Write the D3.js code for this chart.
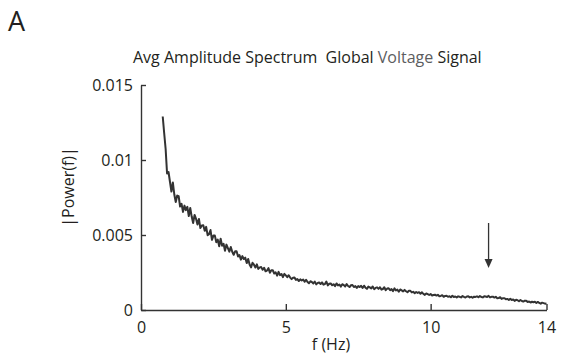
<!DOCTYPE html>
<html><head><meta charset="utf-8">
<script src="https://cdn.jsdelivr.net/npm/d3@7"></script>
<style>
body{margin:0;background:#fff}
svg{display:block}
text{font-family:"Open Sans",sans-serif;fill:#231f20}
</style>
</head><body>
<svg id="c" width="563" height="362"></svg>
<script>
// ---- data ----
const freqStart = 0.75;      // Hz, first bin
const freqStep = 0.05;       // Hz between bins
const power = [
0.0129,0.0118,0.01075,0.0091,0.0092,0.00855,0.0079,0.0085,0.0077,0.0072,
0.00763,0.00759,0.0069,0.00708,0.00654,0.00696,0.00666,0.00688,0.00626,0.0068,
0.00623,0.0058,0.00634,0.00608,0.0057,0.00607,0.00546,0.00563,0.00565,0.00528,
0.00554,0.00499,0.00506,0.00533,0.00468,0.00496,0.00496,0.00452,0.00469,0.00425,
0.00475,0.00428,0.00442,0.00395,0.00436,0.00412,0.00389,0.0042,0.00388,0.00368,
0.00391,0.00392,0.00357,0.00366,0.00336,0.00359,0.0034,0.00349,0.00313,0.0034,
0.00303,0.00284,0.00315,0.00302,0.00283,0.00304,0.00274,0.00284,0.00286,0.00268,
0.00282,0.00258,0.00263,0.00279,0.00248,0.00265,0.00265,0.00243,0.00251,0.00229,
0.00254,0.00232,0.0024,0.00219,0.00241,0.00231,0.00219,0.00232,0.00216,0.00206,
0.00215,0.00216,0.00201,0.00206,0.00193,0.00204,0.00197,0.00203,0.00188,0.00202,
0.00187,0.00178,0.00192,0.00186,0.00177,0.00189,0.00171,0.0018,0.00183,0.00173,
0.00184,0.00169,0.00173,0.0019,0.00164,0.00175,0.00177,0.00165,0.00172,0.00159,
0.00177,0.00164,0.0017,0.00156,0.00172,0.00166,0.00157,0.00173,0.0016,0.00153,
0.00165,0.00167,0.00153,0.00159,0.00147,0.00159,0.00153,0.00161,0.00147,0.00162,
0.00149,0.00141,0.00156,0.00151,0.00144,0.00157,0.00139,0.00147,0.00151,0.00141,
0.00152,0.00136,0.0014,0.00152,0.00132,0.00143,0.00145,0.00132,0.00139,0.00126,
0.00144,0.0013,0.00136,0.00122,0.00137,0.00131,0.00124,0.00134,0.00125,0.00119,
0.00128,0.00128,0.00117,0.00121,0.00112,0.0012,0.00114,0.00119,0.00108,0.00118,
0.00107,0.00101,0.0011,0.00106,0.001,0.00106,0.00097,0.001,0.00102,0.00096,
0.00101,0.00092,0.00094,0.00099,0.00088,0.00094,0.00095,0.00088,0.00092,0.00085,
0.00095,0.00087,0.0009,0.00084,0.00091,0.00088,0.00084,0.00093,0.00087,0.00083,
0.0009,0.00091,0.00084,0.00088,0.00082,0.00089,0.00087,0.00091,0.00085,0.00093,
0.00087,0.00084,0.00092,0.0009,0.00087,0.00094,0.00084,0.00088,0.00089,0.00083,
0.00088,0.00079,0.0008,0.00085,0.00074,0.00079,0.00079,0.00071,0.00074,0.00067,
0.00075,0.00067,0.0007,0.00061,0.00068,0.00065,0.00059,0.00067,0.0006,0.00056,
0.00062,0.00061,0.00054,0.00056,0.0005,0.00055,0.00052,0.00055,0.00047,0.00054,
0.00047,0.00042,0.00049,0.00046,0.00042,0.00044
];
const xTicks = [0, 5, 10, 14];
const yTicks = [0, 0.005, 0.01, 0.015];
const yTickLabels = ["0", "0.005", "0.01", "0.015"];
const panelLabel = "A";
const titleParts = ["Avg Amplitude Spectrum  Global ", "Voltage", " Signal"];
const xLabel = "f (Hz)";
const yLabel = "|Power(f)|";
const arrowFreq = 12;
const arrowValues = [0.0058, 0.0028]; // top, tip

// ---- layout ----
const svg = d3.select("#c");
const x = d3.scaleLinear().domain([0, 14]).range([141, 546.5]);
const y = d3.scaleLinear().domain([0, 0.015]).range([310, 85]);
const ink = "#333333";

svg.append("text").attr("x", 8).attr("y", 31).attr("font-size", 27).text(panelLabel);

const t = svg.append("text").attr("x", 133).attr("y", 63).attr("font-size", 16)
  .style("white-space", "pre");
t.selectAll("tspan").data(titleParts).join("tspan")
  .style("fill", (d, i) => i === 1 ? "#5c5d60" : "#231f20")
  .text(d => d);

// axes
const gx = svg.append("g").attr("transform", "translate(0,310)")
  .call(d3.axisBottom(x).tickValues(xTicks).tickFormat(d3.format("d"))
    .tickSizeInner(-6).tickSizeOuter(0).tickPadding(12));
const gy = svg.append("g").attr("transform", "translate(141,0)")
  .call(d3.axisLeft(y).tickValues(yTicks).tickFormat((d, i) => yTickLabels[i])
    .tickSizeInner(-5).tickSizeOuter(0).tickPadding(8));
[gx, gy].forEach(g => {
  g.select(".domain").attr("stroke", ink).attr("stroke-width", 1.4);
  g.selectAll(".tick line").attr("stroke", ink).attr("stroke-width", 1.4);
  g.selectAll(".tick text").attr("font-size", 16).attr("font-family", "Open Sans").style("fill", "#231f20");
});

// curve
const line = d3.line()
  .x((d, i) => x(freqStart + i * freqStep))
  .y(d => y(d));
svg.append("path").datum(power)
  .attr("d", line).attr("fill", "none")
  .attr("stroke", ink).attr("stroke-width", 2).attr("stroke-linejoin", "round");

// labels
svg.append("text").attr("x", 331).attr("y", 350).attr("text-anchor", "middle")
  .attr("font-size", 16).text(xLabel);
svg.append("text").attr("transform", "translate(74,187) rotate(-90)")
  .attr("text-anchor", "middle").attr("font-size", 16).text(yLabel);

// arrow
const ax = x(arrowFreq), ayTop = y(arrowValues[0]), ayTip = y(arrowValues[1]);
svg.append("line").attr("x1", ax).attr("x2", ax).attr("y1", ayTop).attr("y2", ayTip - 6)
  .attr("stroke", ink).attr("stroke-width", 1.3);
svg.append("path")
  .attr("d", `M${ax - 4},${ayTip - 9}L${ax + 4},${ayTip - 9}L${ax},${ayTip}Z`)
  .attr("fill", ink);
</script>
</body></html>
